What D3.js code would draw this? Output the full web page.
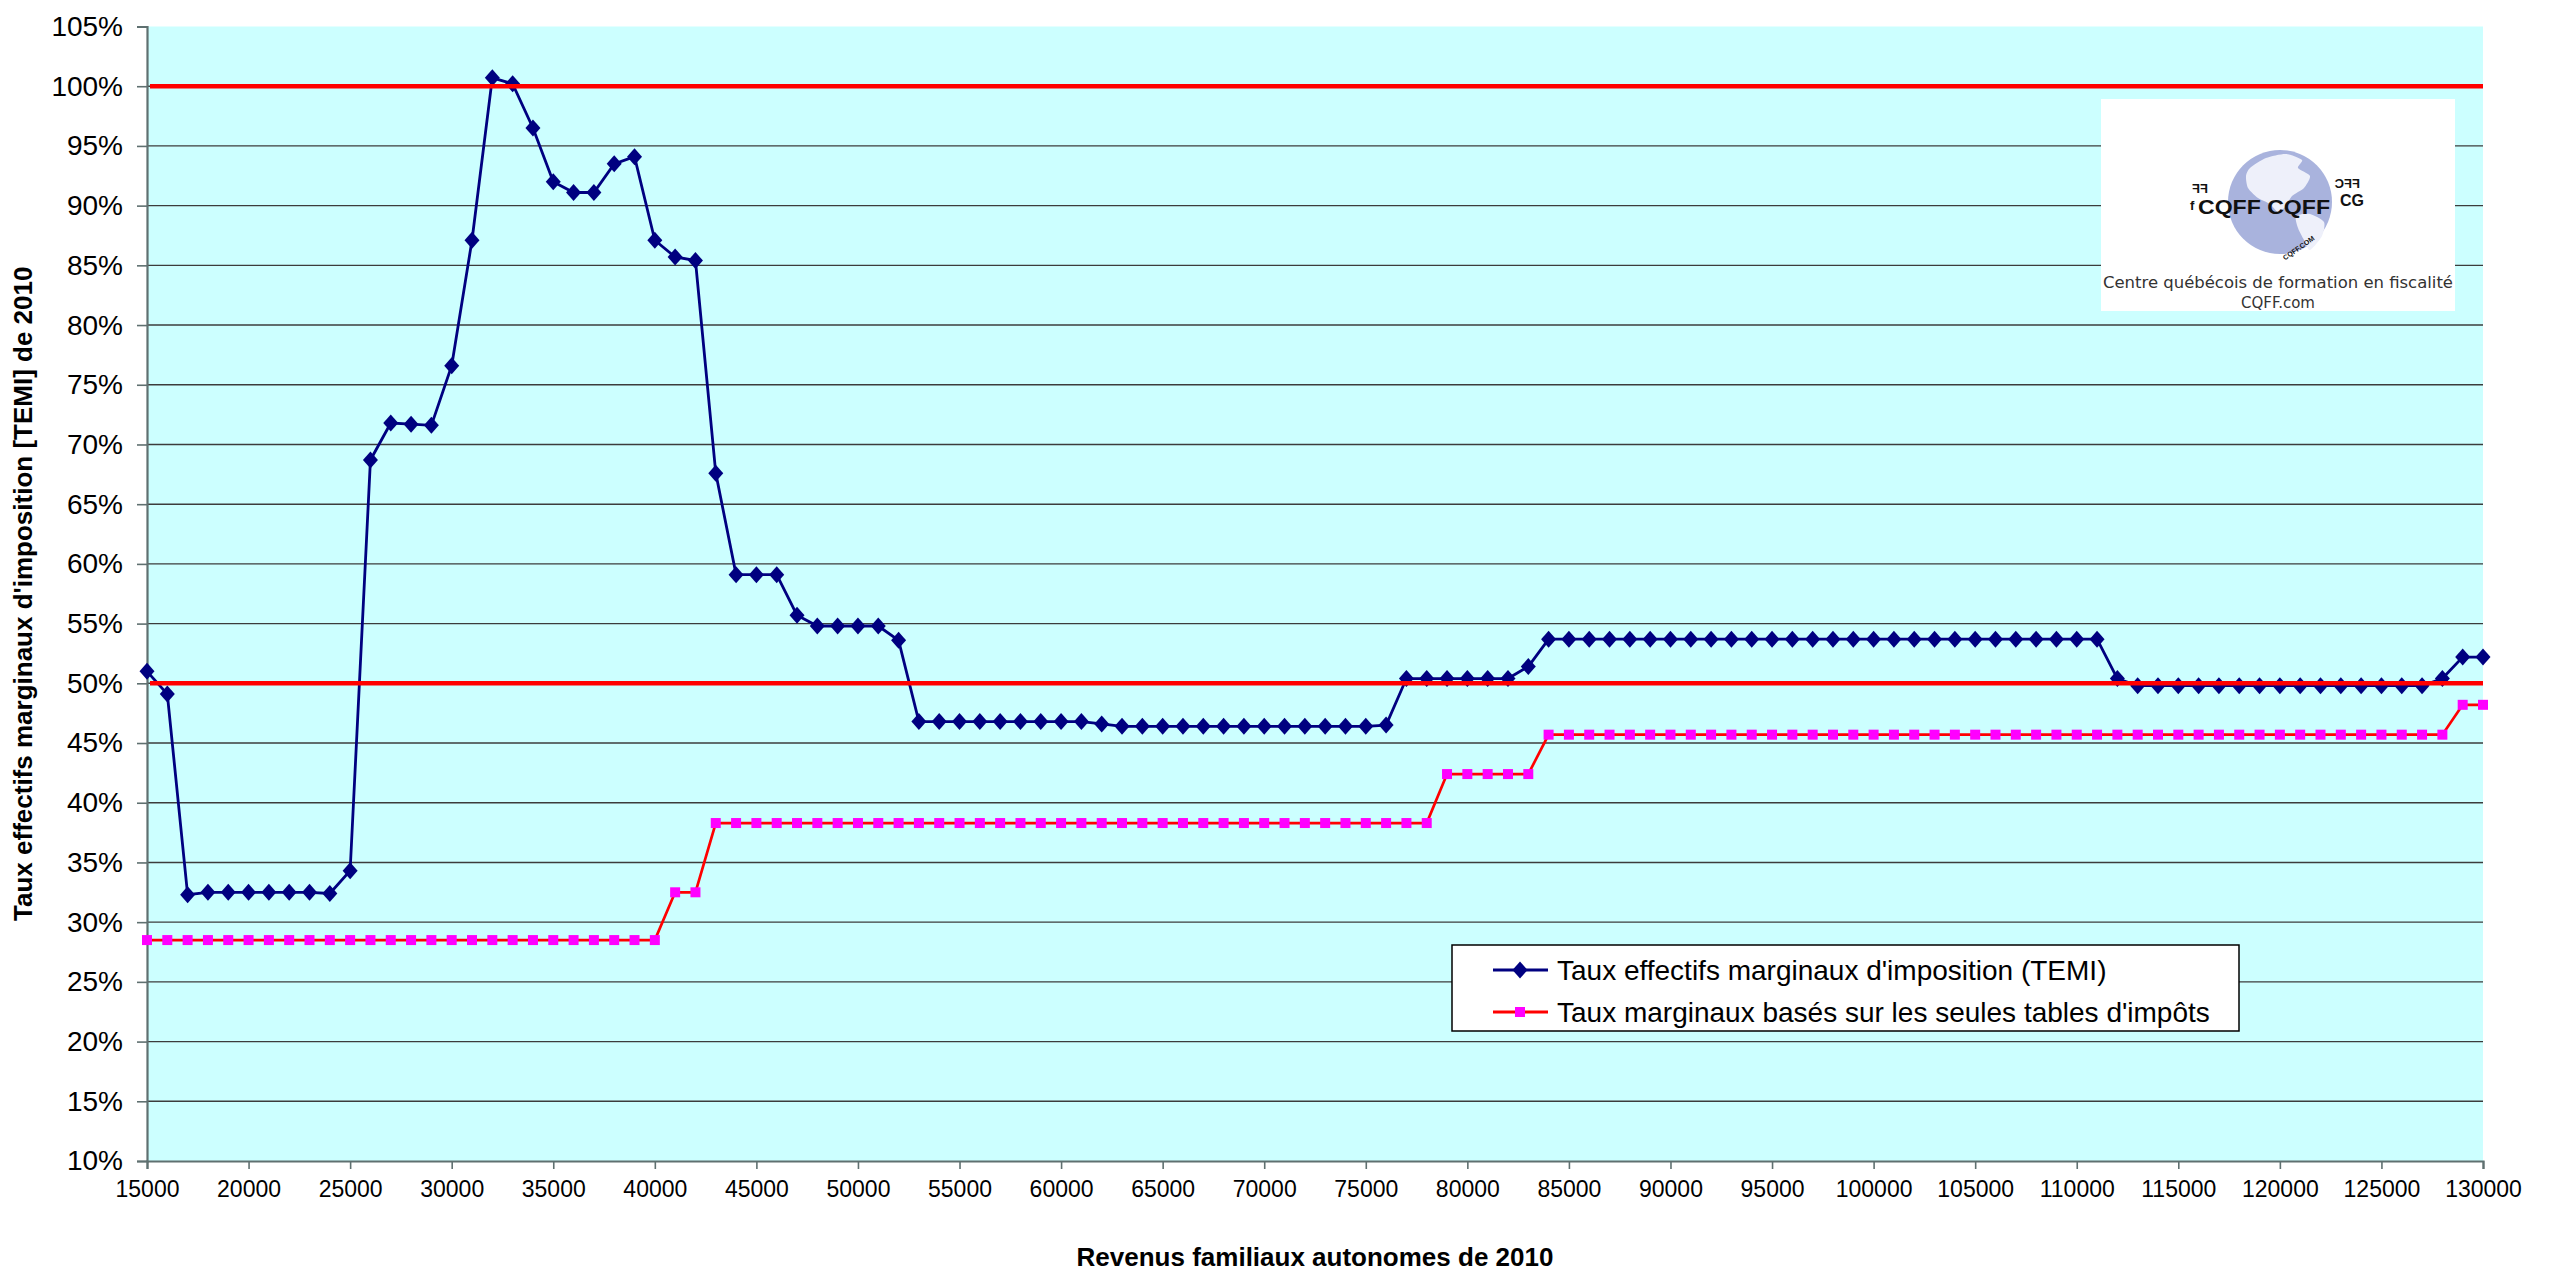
<!DOCTYPE html>
<html>
<head>
<meta charset="utf-8">
<script src="https://cdn.jsdelivr.net/npm/d3@7"></script>
<style>
  html, body { margin: 0; padding: 0; background: #ffffff; }
  svg { display: block; }
</style>
</head>
<body>
<svg id="chart" width="2553" height="1274"></svg>
<script>
// ---------------- DATA ----------------
const incomes = [
  15000,16000,17000,18000,19000,20000,21000,22000,23000,24000,
  25000,26000,27000,28000,29000,30000,31000,32000,33000,34000,
  35000,36000,37000,38000,39000,40000,41000,42000,43000,44000,
  45000,46000,47000,48000,49000,50000,51000,52000,53000,54000,
  55000,56000,57000,58000,59000,60000,61000,62000,63000,64000,
  65000,66000,67000,68000,69000,70000,71000,72000,73000,74000,
  75000,76000,77000,78000,79000,80000,81000,82000,83000,84000,
  85000,86000,87000,88000,89000,90000,91000,92000,93000,94000,
  95000,96000,97000,98000,99000,100000,101000,102000,103000,104000,
  105000,106000,107000,108000,109000,110000,111000,112000,113000,114000,
  115000,116000,117000,118000,119000,120000,121000,122000,123000,124000,
  125000,126000,127000,128000,129000,130000
];

// Taux effectifs marginaux d'imposition (TEMI), in %
const temi = [
  51.0,49.1,32.3,32.5,32.5,32.5,32.5,32.5,32.5,32.4,
  34.3,68.7,71.8,71.7,71.6,76.6,87.1,100.7,100.2,96.5,
  92.0,91.1,91.1,93.5,94.1,87.1,85.7,85.4,67.6,59.1,
  59.1,59.1,55.7,54.8,54.8,54.8,54.8,53.6,46.8,46.8,
  46.8,46.8,46.8,46.8,46.8,46.8,46.8,46.6,46.4,46.4,
  46.4,46.4,46.4,46.4,46.4,46.4,46.4,46.4,46.4,46.4,
  46.4,46.5,50.4,50.4,50.4,50.4,50.4,50.4,51.4,53.7,
  53.7,53.7,53.7,53.7,53.7,53.7,53.7,53.7,53.7,53.7,
  53.7,53.7,53.7,53.7,53.7,53.7,53.7,53.7,53.7,53.7,
  53.7,53.7,53.7,53.7,53.7,53.7,53.7,50.4,49.8,49.8,
  49.8,49.8,49.8,49.8,49.8,49.8,49.8,49.8,49.8,49.8,
  49.8,49.8,49.8,50.4,52.2,52.2
];

// Taux marginaux basés sur les seules tables d'impôts, in %
const taxTables = [
  28.5,28.5,28.5,28.5,28.5,28.5,28.5,28.5,28.5,28.5,
  28.5,28.5,28.5,28.5,28.5,28.5,28.5,28.5,28.5,28.5,
  28.5,28.5,28.5,28.5,28.5,28.5,32.5,32.5,38.3,38.3,
  38.3,38.3,38.3,38.3,38.3,38.3,38.3,38.3,38.3,38.3,
  38.3,38.3,38.3,38.3,38.3,38.3,38.3,38.3,38.3,38.3,
  38.3,38.3,38.3,38.3,38.3,38.3,38.3,38.3,38.3,38.3,
  38.3,38.3,38.3,38.3,42.4,42.4,42.4,42.4,42.4,45.7,
  45.7,45.7,45.7,45.7,45.7,45.7,45.7,45.7,45.7,45.7,
  45.7,45.7,45.7,45.7,45.7,45.7,45.7,45.7,45.7,45.7,
  45.7,45.7,45.7,45.7,45.7,45.7,45.7,45.7,45.7,45.7,
  45.7,45.7,45.7,45.7,45.7,45.7,45.7,45.7,45.7,45.7,
  45.7,45.7,45.7,45.7,48.2,48.2
];

const referenceLines = [50, 100];
const yTicks = [10,15,20,25,30,35,40,45,50,55,60,65,70,75,80,85,90,95,100,105];
const xTicks = [15000,20000,25000,30000,35000,40000,45000,50000,55000,60000,
  65000,70000,75000,80000,85000,90000,95000,100000,105000,110000,115000,120000,125000,130000];

const seriesNames = [
  "Taux effectifs marginaux d'imposition (TEMI)",
  "Taux marginaux basés sur les seules tables d'impôts"
];
const yTitle = "Taux effectifs marginaux d'imposition [TEMI] de 2010";
const xTitle = "Revenus familiaux autonomes de 2010";

// ---------------- LAYOUT ----------------
const FONT = "'Liberation Sans', Arial, Helvetica, sans-serif";
const plot = { left: 147, right: 2483, top: 26.5, bottom: 1161 };

const svg = d3.select("#chart");
const x = d3.scaleLinear().domain([15000, 130000]).range([plot.left, plot.right]);
const y = d3.scaleLinear().domain([10, 105]).range([plot.bottom, plot.top]);

// background
svg.append("rect")
  .attr("x", plot.left).attr("y", plot.top)
  .attr("width", plot.right - plot.left).attr("height", plot.bottom - plot.top)
  .attr("fill", "#CCFFFF");

// gridlines
svg.append("g")
  .selectAll("line")
  .data(yTicks.filter(d => d > 10 && d < 105))
  .join("line")
  .attr("x1", plot.left).attr("x2", plot.right)
  .attr("y1", d => y(d)).attr("y2", d => y(d))
  .attr("stroke", "#3c3c3c").attr("stroke-width", 1.4);

// Y axis
const yAxis = d3.axisLeft(y).tickValues(yTicks).tickSize(10).tickPadding(14)
  .tickFormat(d => d + "%");
const gy = svg.append("g").attr("transform", `translate(${plot.left},0)`).call(yAxis);
gy.select(".domain").attr("stroke", "#5f7070").attr("stroke-width", 2.2);
gy.selectAll(".tick line").attr("stroke", "#5f7070").attr("stroke-width", 1.6);
gy.selectAll(".tick text").attr("font-family", FONT).attr("font-size", 28).attr("fill", "#000");

// X axis
const xAxis = d3.axisBottom(x).tickValues(xTicks).tickSize(8).tickPadding(12)
  .tickFormat(d3.format("d"));
const gx = svg.append("g").attr("transform", `translate(0,${plot.bottom})`).call(xAxis);
gx.select(".domain").attr("stroke", "#5f7070").attr("stroke-width", 2.2);
gx.selectAll(".tick line").attr("stroke", "#5f7070").attr("stroke-width", 1.6);
gx.selectAll(".tick text").attr("font-family", FONT).attr("font-size", 23).attr("fill", "#000");

// axis titles
svg.append("text")
  .attr("x", x(72500)).attr("y", 1266)
  .attr("text-anchor", "middle")
  .attr("font-family", FONT).attr("font-weight", "bold").attr("font-size", 26)
  .text(xTitle);
svg.append("text")
  .attr("transform", `translate(32,${(plot.top + plot.bottom) / 2}) rotate(-90)`)
  .attr("text-anchor", "middle")
  .attr("font-family", FONT).attr("font-weight", "bold").attr("font-size", 26)
  .text(yTitle);

// series
const rows = incomes.map((inc, i) => ({ inc, temi: temi[i], tax: taxTables[i] }));

const lineTax = d3.line().x(d => x(d.inc)).y(d => y(d.tax));
svg.append("path").datum(rows).attr("d", lineTax)
  .attr("fill", "none").attr("stroke", "#FF0000").attr("stroke-width", 2.7);
svg.append("g").selectAll("rect").data(rows).join("rect")
  .attr("x", d => x(d.inc) - 5).attr("y", d => y(d.tax) - 5)
  .attr("width", 10).attr("height", 10)
  .attr("fill", "#FF00FF");

const lineTemi = d3.line().x(d => x(d.inc)).y(d => y(d.temi));
svg.append("path").datum(rows).attr("d", lineTemi)
  .attr("fill", "none").attr("stroke", "#000080").attr("stroke-width", 2.8);
const diamond = "M0,-8.5L7.5,0L0,8.5L-7.5,0Z";
svg.append("g").selectAll("path").data(rows).join("path")
  .attr("transform", d => `translate(${x(d.inc)},${y(d.temi)})`)
  .attr("d", diamond)
  .attr("fill", "#000080");

// reference lines (50%, 100%)
svg.append("g").selectAll("line").data(referenceLines).join("line")
  .attr("x1", plot.left + 3).attr("x2", plot.right)
  .attr("y1", d => y(d)).attr("y2", d => y(d))
  .attr("stroke", "#FF0000").attr("stroke-width", 4.5);

// ---------------- LEGEND ----------------
const lg = svg.append("g");
lg.append("rect").attr("x", 1452).attr("y", 945).attr("width", 787).attr("height", 86)
  .attr("fill", "#ffffff").attr("stroke", "#000").attr("stroke-width", 1.5);
const legendRows = [
  { name: seriesNames[0], line: "#000080", mark: "diamond", cy: 970 },
  { name: seriesNames[1], line: "#FF0000", mark: "square", cy: 1012 }
];
legendRows.forEach(r => {
  lg.append("line").attr("x1", 1493).attr("x2", 1548).attr("y1", r.cy).attr("y2", r.cy)
    .attr("stroke", r.line).attr("stroke-width", 2.8);
  if (r.mark === "diamond") {
    lg.append("path").attr("d", diamond).attr("transform", `translate(1520,${r.cy})`).attr("fill", "#000080");
  } else {
    lg.append("rect").attr("x", 1515).attr("y", r.cy - 5).attr("width", 10).attr("height", 10).attr("fill", "#FF00FF");
  }
  lg.append("text").attr("x", 1557).attr("y", r.cy).attr("dy", "0.35em")
    .attr("font-family", FONT).attr("font-size", 28).attr("fill", "#000").text(r.name);
});

// ---------------- LOGO ----------------
const logo = svg.append("g");
logo.append("rect").attr("x", 2101).attr("y", 99).attr("width", 354).attr("height", 212).attr("fill", "#ffffff");
const gcx = 2280, gcy = 202, gr = 52;
logo.append("circle").attr("cx", gcx).attr("cy", gcy).attr("r", gr).attr("fill", "#a9b3dd");
// continents (light)
const na = [[-30,-34],[-14,-44],[6,-48],[22,-42],[18,-34],[30,-26],[24,-14],[12,-6],[6,4],[-2,10],[-10,2],[-22,-4],[-32,-14],[-34,-26]];
const sa = [[16,14],[30,12],[44,20],[42,34],[30,48],[24,38],[18,26]];
const lineC = d3.line().curve(d3.curveCardinalClosed.tension(0.3));
logo.append("path").attr("d", lineC(na.map(p => [gcx + p[0], gcy + p[1]]))).attr("fill", "#eef0fa");
logo.append("path").attr("d", lineC(sa.map(p => [gcx + p[0], gcy + p[1]]))).attr("fill", "#eef0fa");
logo.append("text").attr("x", 2264).attr("y", 214).attr("text-anchor", "middle")
  .attr("font-family", FONT).attr("font-weight", "bold").attr("font-size", 21)
  .attr("textLength", 132).attr("lengthAdjust", "spacingAndGlyphs")
  .attr("fill", "#111").text("CQFF CQFF");
logo.append("text").attr("transform", "translate(2208,193) scale(-1,1)")
  .attr("font-family", FONT).attr("font-weight", "bold").attr("font-size", 13).attr("fill", "#111").text("FF");
logo.append("text").attr("x", 2190).attr("y", 210)
  .attr("font-family", FONT).attr("font-weight", "bold").attr("font-size", 13).attr("fill", "#111").text("f");
logo.append("text").attr("transform", "translate(2360,188) scale(-1,1)")
  .attr("font-family", FONT).attr("font-weight", "bold").attr("font-size", 13).attr("fill", "#111").text("FFC");
logo.append("text").attr("x", 2340).attr("y", 206)
  .attr("font-family", FONT).attr("font-weight", "bold").attr("font-size", 16).attr("fill", "#111").text("CG");
logo.append("text").attr("transform", "translate(2300,250) rotate(-35)")
  .attr("text-anchor", "middle")
  .attr("font-family", FONT).attr("font-weight", "bold").attr("font-size", 7).attr("fill", "#111").text("CQFF.COM");
logo.append("text").attr("x", 2278).attr("y", 288).attr("text-anchor", "middle")
  .attr("font-family", "'DejaVu Sans', Verdana, sans-serif").attr("font-size", 15)
  .attr("textLength", 350).attr("lengthAdjust", "spacingAndGlyphs")
  .attr("fill", "#333").text("Centre québécois de formation en fiscalité");
logo.append("text").attr("x", 2278).attr("y", 308).attr("text-anchor", "middle")
  .attr("font-family", "'DejaVu Sans', Verdana, sans-serif").attr("font-size", 15)
  .attr("fill", "#333").text("CQFF.com");
</script>
</body>
</html>
